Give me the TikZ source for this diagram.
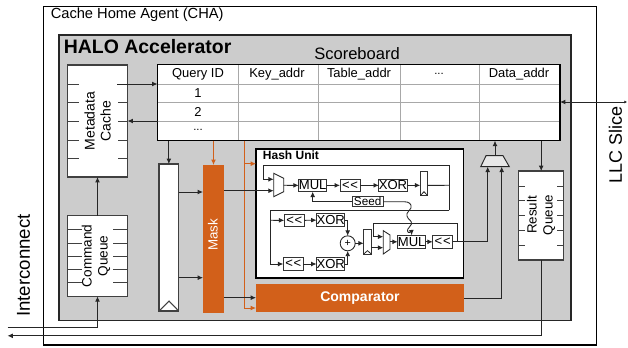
\documentclass[tikz,border=0pt]{standalone}
\usepackage{fontspec}
\setmainfont{Liberation Sans}
\usetikzlibrary{arrows.meta}
\definecolor{halogray}{HTML}{CCCCCC}
\definecolor{haloorange}{HTML}{D2601A}
\definecolor{tablegray}{HTML}{A8A8A8}
\newcommand{\fs}[1]{\fontsize{#1}{12}\selectfont}
\newcommand{\shl}{<\kern0.5pt<}
% \boxat{name}{x1}{y1}{x2}{y2}{style}{text}
\newcommand{\boxat}[7]{\node[#6, minimum width={((#4)-(#2))*0.75pt}, minimum height={((#5)-(#3))*0.75pt}] (#1) at ({((#2)+(#4))/2},{((#3)+(#5))/2}) {#7};}
\tikzset{
  rect/.style={rectangle, inner sep=0pt, outer sep=0pt},
  outerbox/.style={rect, draw=black, line width=1pt, fill=white},
  halobox/.style={rect, draw=black!85, line width=0.85pt, fill=halogray},
  whitebox/.style={rect, draw=black!75, line width=0.8pt, fill=white},
  tablebox/.style={rect, draw=black, line width=0.9pt, fill=white},
  hashbox/.style={rect, draw=black, line width=1.3pt, fill=white},
  orangebox/.style={rect, fill=haloorange},
  opbox/.style={rect, draw=black!80, line width=0.65pt, fill=white, font=\fs{9.8}},
  regbox/.style={rect, draw=black!80, line width=0.65pt, fill=white},
  ghost/.style={rect},
  wire/.style={draw=black!85, line width=0.65pt},
  arr/.style={wire, -{Latex[length=4pt,width=3.6pt]}},
  oarr/.style={draw=haloorange, line width=0.7pt, -{Latex[length=4pt,width=3.6pt]}},
  tick/.style={draw=black!75, line width=0.7pt},
  grid/.style={draw=tablegray, line width=0.7pt},
  cell/.style={inner sep=0pt, font=\fs{9.7}},
  rotlabel/.style={rotate=90, align=center, inner sep=0pt, font=\fs{10.2}},
}
\begin{document}
\begin{tikzpicture}[x=0.75pt,y=-0.75pt]
\useasboundingbox (0,0) rectangle (628,347);

% free ends
\coordinate (icin) at (7.5,327.3);
\coordinate (icout) at (7.5,335.8);
\coordinate (llcend) at (627,102);

% containers
\boxat{cha}{43.5}{6.5}{596.5}{345}{outerbox}{}
\boxat{halo}{59}{35}{571}{320.5}{halobox}{}
\node[inner sep=0pt, anchor=west, font=\fs{11}] (chalabel) at (50.5,15) {Cache Home Agent (CHA)};
\node[inner sep=0pt, anchor=west, font=\bfseries\fs{14.6}] (halolabel) at (63.5,46.7) {HALO Accelerator};
\node[inner sep=0pt, font=\fs{12.4}] (sblabel) at (357,53.5) {Scoreboard};
\node[inner sep=0pt, rotate=90, font=\fs{14}] (iclabel) at (23.5,265.5) {Interconnect};
\node[inner sep=0pt, rotate=90, font=\fs{13.5}] (llclabel) at (615.5,145) {LLC Slice};

% Metadata cache
\boxat{mc}{67.5}{65}{127.5}{177}{whitebox}{}
\foreach \y in {84,102.7,121,140,158.7}{
  \draw[tick] (mc.west |- 0,\y) -- ++(11.5,0);
  \draw[tick] (mc.east |- 0,\y) -- ++(-10,0);
}
\node[rotlabel, font=\fs{10.5}] (mclabel) at (97.5,121) {Metadata\\Cache};

% Command queue
\boxat{cq}{67.5}{215.7}{127.5}{296.3}{whitebox}{}
\foreach \y in {229.3,243,256,269.5,282.8}{
  \draw[tick] (cq.west |- 0,\y) -- ++(14.5,0);
  \draw[tick] (cq.east |- 0,\y) -- ++(-15,0);
}
\node[rotlabel] (cqlabel) at (96,256) {Command\\Queue};

% Scoreboard table
\boxat{sb}{157.5}{64.5}{560}{140.7}{tablebox}{}
\foreach \y in {84,102.5,121}{\draw[grid] (sb.west |- 0,\y) -- (sb.east |- 0,\y);}
\foreach \x in {238.5,318,400,479.5}{\draw[grid] (\x,0 |- sb.north) -- (\x,0 |- sb.south);}
\draw[draw=black, line width=0.9pt] (sb.north west) rectangle (sb.south east);
\node[cell] (h1) at (198,74.5) {Query ID};
\node[cell] (h2) at (277,74.5) {Key\_addr};
\node[cell] (h3) at (359,74.5) {Table\_addr};
\node[cell, font=\fs{8.5}] (h4) at (439,73.5) {...};
\node[cell] (h5) at (519,74.5) {Data\_addr};
\node[cell] (r1) at (198,93) {1};
\node[cell] (r2) at (198,111.5) {2};
\node[cell, font=\fs{8.5}] (r3) at (198,130) {...};

% FIFO
\boxat{fifo}{159}{164}{178.7}{311}{whitebox}{}
\draw[draw=black!75, line width=0.8pt] (fifo.south west) -- (169,301) -- (fifo.south east);

% Mask and comparator
\boxat{mask}{203}{165}{224}{312.7}{orangebox}{}
\node[rotate=90, inner sep=0pt, text=white, font=\fs{10}] (masklabel) at (212.8,235) {Mask};
\boxat{comp}{256}{284}{464}{312}{orangebox}{\textcolor{white}{\bfseries\fs{10.5}Comparator}}

% Result queue
\boxat{rq}{518.7}{171}{563.7}{260}{whitebox}{}
\foreach \y in {186,200.7,215,230,245}{
  \draw[tick] (rq.west |- 0,\y) -- ++(6.5,0);
  \draw[tick] (rq.east |- 0,\y) -- ++(-6.5,0);
}
\node[rotlabel, font=\fs{10}] (rqlabel) at (541,215) {Result\\Queue};

% Output mux
\boxat{omux}{480.7}{155.7}{509.3}{166.7}{ghost}{}
\draw[draw=black!85, line width=0.7pt, fill=halogray!45] (486,155.7) -- (503,155.7) -- (omux.south east) -- (omux.south west) -- cycle;

% Hash unit
\boxat{hu}{256}{149}{463.5}{277.7}{hashbox}{}
\node[inner sep=0pt, anchor=west, font=\bfseries\fs{9}] (hulabel) at (262.7,155.7) {Hash Unit};

\boxat{muxa}{273.7}{173.3}{283.7}{196.7}{ghost}{}
\draw[draw=black!85, line width=0.65pt, fill=white] (muxa.north west) -- (283.7,178.3) -- (283.7,191.7) -- (muxa.south west) -- cycle;
\boxat{mula}{298.7}{179}{326.7}{191.7}{opbox}{MUL}
\boxat{shla}{340}{179}{360}{191.7}{opbox}{\shl}
\boxat{xora}{379}{179}{407}{191.7}{opbox}{XOR}
\boxat{rega}{420.3}{171}{427.7}{195.7}{regbox}{}
\draw[draw=black!85, line width=0.6pt] (rega.south west) -- (424,191.7) -- (rega.south east);
\boxat{seed}{352}{196.7}{383.3}{206.7}{opbox}{\fs{8.8}Seed}

\boxat{shlb}{284.3}{214}{304.3}{226.7}{opbox}{\shl}
\boxat{xorb}{316.7}{213.5}{344.7}{226.7}{opbox}{XOR}
\boxat{shlc}{283.3}{257.3}{303.3}{270.7}{opbox}{\shl}
\boxat{xorc}{316.7}{257.3}{344.7}{270.7}{opbox}{XOR}
\node[circle, draw=black!85, line width=0.65pt, fill=white, minimum size=11.25pt, inner sep=0pt, outer sep=0pt, font=\fs{8}] (plus) at (347.7,243.3) {+};
\boxat{regb}{363.7}{229}{371.3}{254}{regbox}{}
\draw[draw=black!85, line width=0.6pt] (regb.south west) -- (367.5,250.7) -- (regb.south east);
\boxat{muxb}{383.3}{230.7}{390}{254}{ghost}{}
\draw[draw=black!85, line width=0.65pt, fill=white] (muxb.north west) -- (390,235) -- (390,249.3) -- (muxb.south west) -- cycle;
\boxat{mulb}{397.7}{235.3}{425.7}{248.3}{opbox}{MUL}
\boxat{shld}{432.7}{235.3}{452.7}{248.3}{opbox}{\shl}

% Connectors: outer
\draw[arr] (117,84) -- (sb.west |- 0,84);
\draw[arr] (sb.west |- 0,121) -- (mc.east |- 0,121);
\draw[arr] (cq.north) -- (mc.south -| cq.north);
\draw[arr] (icin) -- (97.5,327.3) -- (cq.south);
\draw[arr] (rq.south) -- (rq.south |- icout) -- (icout);
\draw[arr] (sb.south -| fifo.north) -- (fifo.north);
\draw[arr] (fifo.east |- 0,192) -- (mask.west |- 0,192);
\draw[arr] (fifo.east |- 0,277.7) -- (mask.west |- 0,277.7);
\draw[oarr] (sb.south -| mask.north) -- (mask.north);
\draw[oarr] (244.5,0 |- sb.south) -- (244.5,308) -- (comp.west |- 0,308);
\draw[oarr] (244.5,163.7) -- (hu.west |- 0,163.7);
\draw[arr] (mask.east |- 0,297.7) -- (comp.west |- 0,297.7);
\draw[arr] (sb.south -| rq.north) -- (rq.north);
\draw[arr] (omux.north) -- (sb.south -| omux.north);
\draw[{Latex[length=4pt,width=3.6pt]}-{Latex[length=2pt,width=2.4pt]}, wire] (sb.east |- llcend) -- (llcend);

% Connectors: hash unit, upper row
\draw[arr] (mask.east |- 0,190.7) -- (muxa.west |- 0,190.7);
\draw[arr] (449.3,210) -- (449.3,165.7) -- (263.3,165.7) -- (263.3,179.3) -- (muxa.west |- 0,179.3);
\draw[arr] (283.7,185.3) -- (mula.west);
\draw[arr] (mula.east) -- (shla.west);
\draw[arr] (shla.east) -- (xora.west);
\draw[arr] (xora.east) -- (rega.west |- xora.east);
\draw[wire] (rega.east |- xora.east) -- (449.3,185.3);
\draw[arr] (seed.west) -- (mula.south |- seed.west) -- (mula.south);
\draw[arr] (seed.east) -- (404,201.7)
  .. controls (409,201.7) and (412,204) .. (411,208)
  .. controls (410,211) and (406,212) .. (407,216)
  .. controls (408,220) and (412,220) .. (411.5,224)
  .. controls (411,227) and (407,228) .. (407.5,231)
  .. controls (408,234) and (411.5,232) .. (411.7,235.3);

% Connectors: hash unit, lower rows
\draw[wire] (449.3,210) -- (270.3,210) -- (270.3,264);
\draw[arr] (270.3,220.3) -- (shlb.west);
\draw[arr] (270.3,264) -- (shlc.west);
\draw[arr] (shlb.east) -- (xorb.west);
\draw[arr] (shlc.east) -- (xorc.west);
\draw[arr] (xorb.east) -- (plus.north |- xorb.east) -- (plus.north);
\draw[arr] (xorc.east) -- (plus.south |- xorc.east) -- (plus.south);
\draw[arr] (plus.east) -- (regb.west |- plus.east);
\draw[arr] (regb.east |- 0,247.7) -- (muxb.west |- 0,247.7);
\draw[arr] (457.3,241.8) -- (457.3,223.3) -- (373.7,223.3) -- (373.7,236.7) -- (muxb.west |- 0,236.7);
\draw[arr] (390,241.8) -- (mulb.west);
\draw[arr] (mulb.east) -- (shld.west);
\draw[arr] (shld.east) -- (487.7,0 |- shld.east) -- (487.7,0 |- omux.south);
\draw[arr] (comp.east |- 0,298) -- (501.7,298) -- (501.7,0 |- omux.south);
\end{tikzpicture}
\end{document}
